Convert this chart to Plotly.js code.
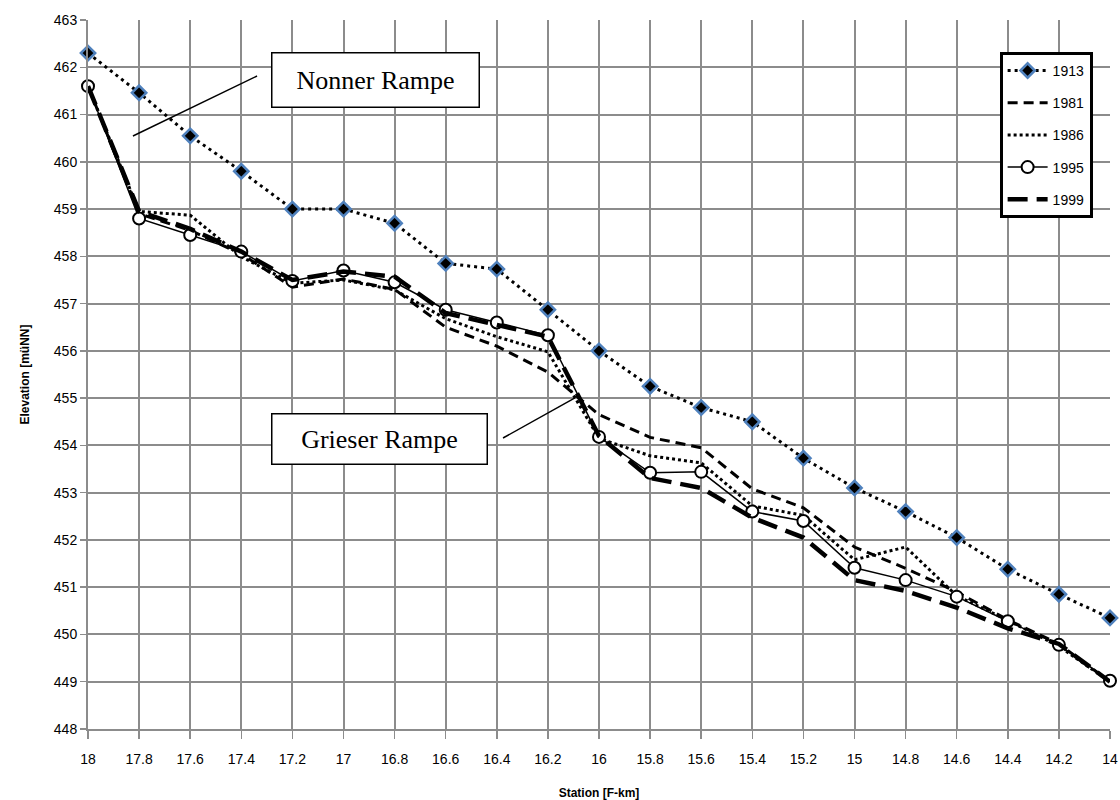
<!DOCTYPE html>
<html><head><meta charset="utf-8">
<script src="https://cdn.plot.ly/plotly-3.0.1.min.js"></script>
<style>html,body{margin:0;padding:0;background:#fff}#chart{width:1120px;height:800px}</style>
</head><body><div id="chart"></div>
<script>
const stations = [18, 17.8, 17.6, 17.4, 17.2, 17, 16.8, 16.6, 16.4, 16.2, 16, 15.8, 15.6, 15.4, 15.2, 15, 14.8, 14.6, 14.4, 14.2, 14];
const stationLabels = ["18", "17.8", "17.6", "17.4", "17.2", "17", "16.8", "16.6", "16.4", "16.2", "16", "15.8", "15.6", "15.4", "15.2", "15", "14.8", "14.6", "14.4", "14.2", "14"];
const seriesNames = ["1913", "1981", "1986", "1995", "1999"];
const y1913 = [462.3, 461.46, 460.55, 459.8, 459.0, 459.0, 458.7, 457.85, 457.73, 456.87, 456.0, 455.25, 454.8, 454.5, 453.73, 453.1, 452.6, 452.05, 451.38, 450.85, 450.35];
const y1981 = [461.6, 458.9, 458.55, 458.05, 457.35, 457.52, 457.3, 456.5, 456.1, 455.55, 454.65, 454.17, 453.95, 453.08, 452.68, 451.85, 451.4, 450.9, 450.31, 449.8, 449.0];
const y1986 = [461.6, 458.95, 458.87, 457.99, 457.43, 457.5, 457.29, 456.68, 456.3, 455.98, 454.15, 453.78, 453.63, 452.72, 452.52, 451.58, 451.85, 450.82, 450.3, 449.75, 449.0];
const y1995 = [461.6, 458.8, 458.45, 458.1, 457.48, 457.7, 457.45, 456.87, 456.6, 456.33, 454.18, 453.42, 453.44, 452.6, 452.4, 451.41, 451.15, 450.8, 450.28, 449.78, 449.02];
const y1999 = [461.6, 458.95, 458.58, 458.1, 457.5, 457.68, 457.57, 456.8, 456.55, 456.3, 454.2, 453.31, 453.1, 452.47, 452.05, 451.15, 450.92, 450.57, 450.13, 449.8, 449.0];
const annotationTexts = ["Nonner Rampe", "Grieser Rampe"];
const xTitle = "Station [F-km]";
const yTitle = "Elevation [müNN]";

const base = {x: stations, type: "scatter", cliponaxis: false};
const traces = [
  Object.assign({}, base, {y: y1913, name: seriesNames[0], legendgroup: "a", mode: "lines+markers",
    line: {color: "#000", width: 3, dash: "3px,4px"},
    marker: {symbol: "diamond", size: 11, color: "#000", line: {color: "#4F81BD", width: 2.5}}}),
  Object.assign({}, base, {y: y1981, name: seriesNames[1], legendgroup: "b", mode: "lines",
    line: {color: "#000", width: 3, dash: "10px,6px"}}),
  Object.assign({}, base, {y: y1986, name: seriesNames[2], legendgroup: "c", mode: "lines",
    line: {color: "#000", width: 3, dash: "3px,3px"}}),
  Object.assign({}, base, {y: y1995, name: seriesNames[3], legendgroup: "d", mode: "lines+markers",
    line: {color: "#000", width: 1.5},
    marker: {symbol: "circle", size: 12, color: "#fff", line: {color: "#000", width: 2}}}),
  Object.assign({}, base, {y: y1999, name: seriesNames[4], legendgroup: "e", mode: "lines",
    line: {color: "#000", width: 4.5, dash: "20px,9px"}})
];

const layout = {
  width: 1120, height: 800,
  margin: {l: 88, r: 10, t: 20, b: 71},
  paper_bgcolor: "#fff", plot_bgcolor: "#fff",
  font: {family: "Liberation Sans, Arial, sans-serif", color: "#000", size: 13},
  showlegend: true,
  legend: {x: 0.892, y: 0.955, xanchor: "left", yanchor: "top", bgcolor: "#fff",
    bordercolor: "#000", borderwidth: 3, tracegroupgap: 11, itemwidth: 40,
    font: {size: 14, color: "#000"}},
  xaxis: {range: [18, 14], tickmode: "array", tickvals: stations, ticktext: stationLabels,
    ticklabeloverflow: "allow",
    showgrid: true, gridcolor: "#8c8c8c", gridwidth: 2,
    zeroline: false, showline: true, linecolor: "#8c8c8c", linewidth: 2,
    ticks: "outside", ticklen: 8, tickcolor: "#8c8c8c", tickwidth: 1.5, ticklabelstandoff: 8,
    tickfont: {size: 14, color: "#000"},
    title: {text: xTitle, font: {size: 12, color: "#000", family: "Liberation Sans, Arial, sans-serif", weight: "bold"}, standoff: 24}},
  yaxis: {range: [448, 463], dtick: 1, showgrid: true, gridcolor: "#8c8c8c", gridwidth: 2,
    ticklabeloverflow: "allow",
    zeroline: false, showline: true, linecolor: "#8c8c8c", linewidth: 2,
    ticks: "outside", ticklen: 6, tickcolor: "#8c8c8c", tickwidth: 1.5,
    tickfont: {size: 14, color: "#000"},
    title: {text: yTitle, font: {size: 12, color: "#000", family: "Liberation Sans, Arial, sans-serif", weight: "bold"}, standoff: 22}},
  annotations: [
    {xref: "paper", yref: "paper", x: 0.2818, y: 0.9147, xanchor: "center", yanchor: "middle",
      text: annotationTexts[0], showarrow: false, width: 200, height: 47, borderpad: 3,
      bordercolor: "#000", borderwidth: 1.5, bgcolor: "#fff",
      font: {family: "Liberation Serif, Times New Roman, serif", size: 26, color: "#000"}},
    {xref: "paper", yref: "paper", x: 0.2857, y: 0.4097, xanchor: "center", yanchor: "middle",
      text: annotationTexts[1], showarrow: false, width: 208, height: 43, borderpad: 3,
      bordercolor: "#000", borderwidth: 1.5, bgcolor: "#fff",
      font: {family: "Liberation Serif, Times New Roman, serif", size: 26, color: "#000"}}
  ],
  shapes: [
    {type: "line", xref: "paper", yref: "paper", x0: 0.0440, y0: 0.8364, x1: 0.1654, y1: 0.921, line: {color: "#000", width: 1.5}},
    {type: "line", xref: "paper", yref: "paper", x0: 0.4061, y0: 0.4104, x1: 0.4765, y1: 0.4669, line: {color: "#000", width: 1.5}}
  ]
};

Plotly.newPlot("chart", traces, layout, {displayModeBar: false, staticPlot: true});
</script>
</body></html>
